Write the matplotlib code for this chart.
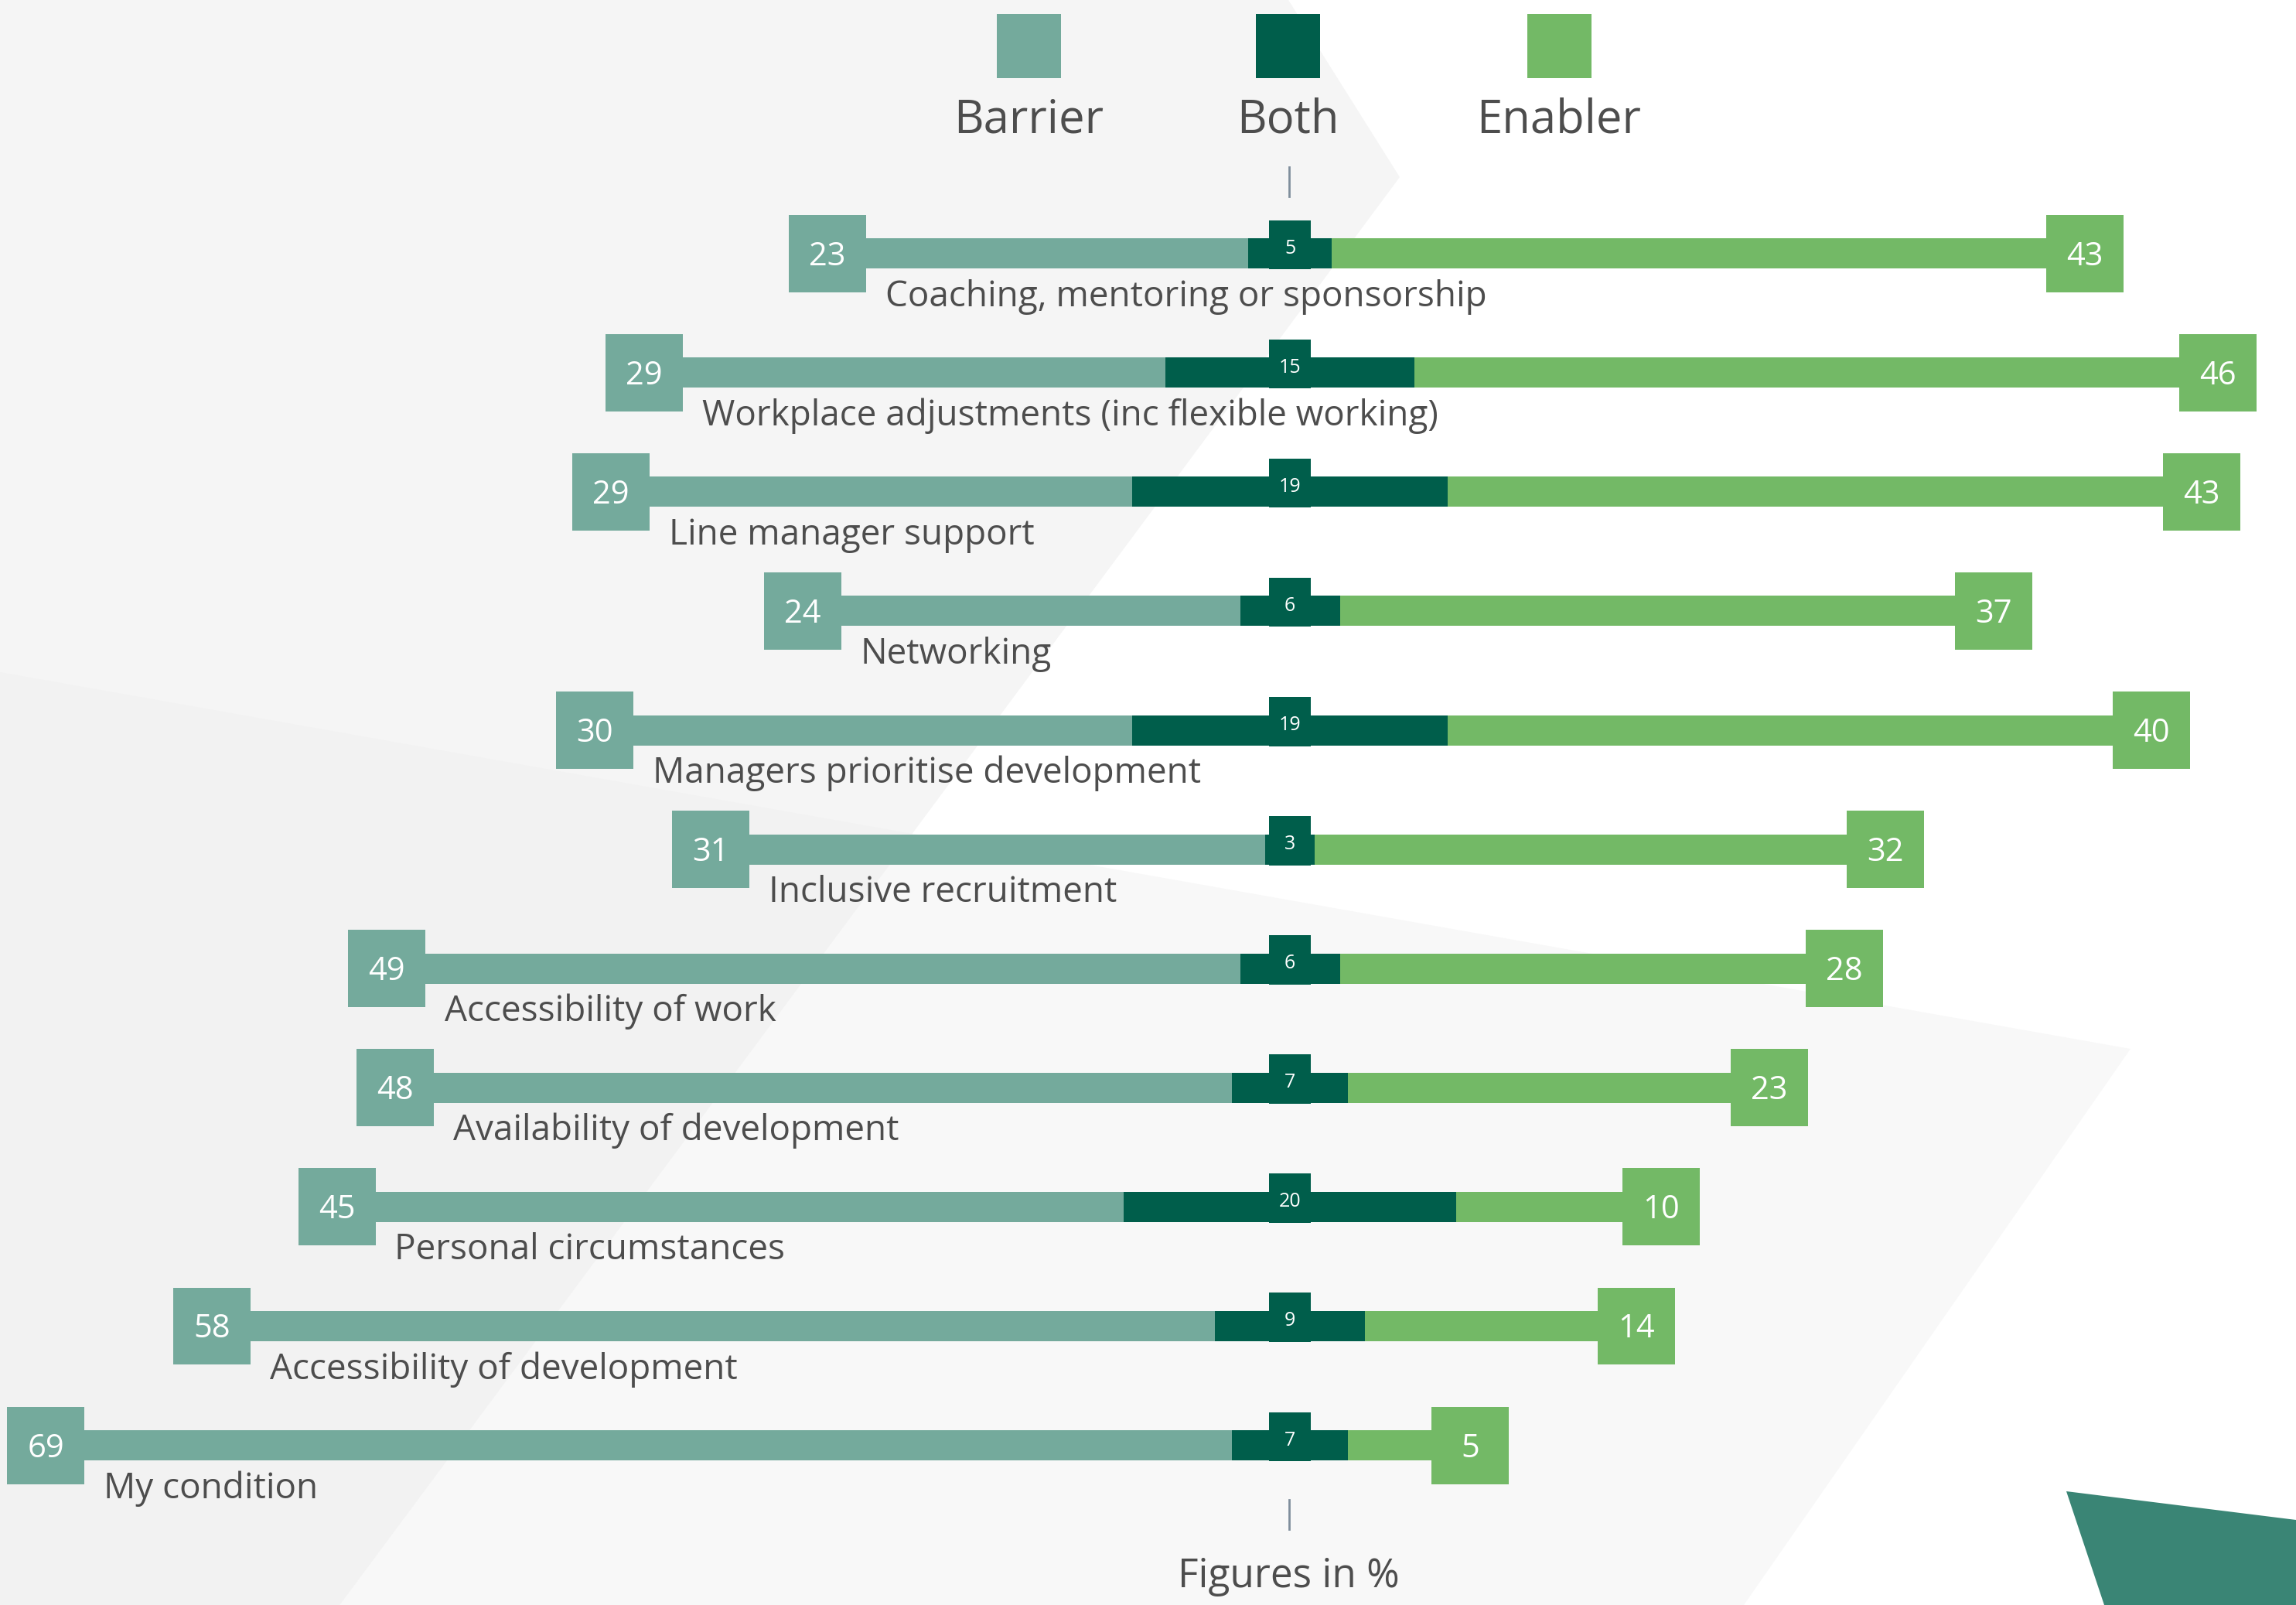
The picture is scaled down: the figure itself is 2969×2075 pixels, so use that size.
import matplotlib
matplotlib.use("Agg")
import matplotlib.pyplot as plt
from matplotlib.patches import Polygon
import numpy as np

# ---------------- data ----------------
categories = [
    "Coaching, mentoring or sponsorship",
    "Workplace adjustments (inc flexible working)",
    "Line manager support",
    "Networking",
    "Managers prioritise development",
    "Inclusive recruitment",
    "Accessibility of work",
    "Availability of development",
    "Personal circumstances",
    "Accessibility of development",
    "My condition",
]
barrier = [23, 29, 29, 24, 30, 31, 49, 48, 45, 58, 69]
both = [5, 15, 19, 6, 19, 3, 6, 7, 20, 9, 7]
enabler = [43, 46, 43, 37, 40, 32, 28, 23, 10, 14, 5]
legend_labels = ["Barrier", "Both", "Enabler"]
note = "Figures in %"

# ---------------- style ----------------
C_BAR = "#74aa9c"
C_BOTH = "#005e4b"
C_EN = "#73b966"
C_TXT = "#4d4d4d"
C_TICK = "#7f8e9c"
FONT = ["Open Sans", "DejaVu Sans"]
plt.rcParams["font.family"] = FONT

W, H, DPI = 2969, 2075, 100
fig = plt.figure(figsize=(W / DPI, H / DPI), dpi=DPI)
fig.patch.set_facecolor("white")

# background decoration (pixel coordinates)
bg = fig.add_axes([0, 0, 1, 1])
bg.set_xlim(0, W)
bg.set_ylim(H, 0)
bg.axis("off")
polyB = [(0, 869), (2755, 1356), (2255, 2075), (0, 2075)]
polyA = [(0, 0), (1666, 0), (1810, 229), (439, 2075), (0, 2075)]
polyAB = [(0, 869), (1180, 1078), (439, 2075), (0, 2075)]
polyT = [(2672, 1928), (2969, 1965), (2969, 2075), (2721, 2075)]
bg.add_patch(Polygon(polyB, closed=True, facecolor="#f8f8f8", edgecolor="none"))
bg.add_patch(Polygon(polyA, closed=True, facecolor="#f5f5f5", edgecolor="none"))
bg.add_patch(Polygon(polyAB, closed=True, facecolor="#f2f2f2", edgecolor="none"))
bg.add_patch(Polygon(polyT, closed=True, facecolor="#3a8575", edgecolor="none"))

# legend
leg_x = [1330, 1665, 2016]
leg_c = [C_BAR, C_BOTH, C_EN]
for lx, lc, lt in zip(leg_x, leg_c, legend_labels):
    bg.add_patch(plt.Rectangle((lx - 41.5, 18), 83, 83, facecolor=lc, edgecolor="none"))
    bg.text(lx, 171, lt, ha="center", va="baseline", fontsize=43, color=C_TXT)

# center ticks and note
bg.plot([1667, 1667], [216, 254], color=C_TICK, lw=2)
bg.plot([1667, 1667], [1939, 1977], color=C_TICK, lw=2)
bg.text(1666, 2052, note, ha="center", va="baseline", fontsize=37, color=C_TXT)

# ---------------- chart ----------------
CX = 1668.0
PX = 21.5          # pixels per percent
ROW0 = 327.6
STEP = 154.1
ax = fig.add_axes([0, 0, 1, 1])
ax.patch.set_alpha(0)
ax.set_xlim(-CX / PX, (W - CX) / PX)
ax.set_ylim((H - ROW0) / STEP, -ROW0 / STEP)
ax.axis("off")

y = np.arange(len(categories))
b = np.array(both, dtype=float)
ba = np.array(barrier, dtype=float)
en = np.array(enabler, dtype=float)

bar_h = 39 / STEP
ax.barh(y, ba, left=-b / 2 - ba, height=bar_h, color=C_BAR, linewidth=0)
ax.barh(y, b, left=-b / 2, height=bar_h, color=C_BOTH, linewidth=0)
ax.barh(y, en, left=b / 2, height=bar_h, color=C_EN, linewidth=0)

box_w = 100 / PX
box_h = 100 / STEP
ax.barh(y, box_w, left=-b / 2 - ba - box_w, height=box_h, color=C_BAR, linewidth=0)
ax.barh(y, box_w, left=b / 2 + en, height=box_h, color=C_EN, linewidth=0)

tab_w = 54 / PX
ax.barh(y - 11.25 / STEP, tab_w, left=-tab_w / 2, height=63.5 / STEP, color=C_BOTH, linewidth=0)

for i in range(len(categories)):
    xl = -b[i] / 2 - ba[i] - box_w / 2
    xr = b[i] / 2 + en[i] + box_w / 2
    ax.text(xl, y[i] + 15 / STEP, f"{barrier[i]}", ha="center", va="baseline",
            fontsize=30, color="white")
    ax.text(xr, y[i] + 15 / STEP, f"{enabler[i]}", ha="center", va="baseline",
            fontsize=30, color="white")
    ax.text(0, y[i] + 0 / STEP, f"{both[i]}", ha="center", va="baseline",
            fontsize=18, color="white")
    ax.text(-b[i] / 2 - ba[i] + 25 / PX, y[i] + 68 / STEP, categories[i],
            ha="left", va="baseline", fontsize=33, color=C_TXT)

fig.savefig("out.png", dpi=DPI, facecolor="white")
